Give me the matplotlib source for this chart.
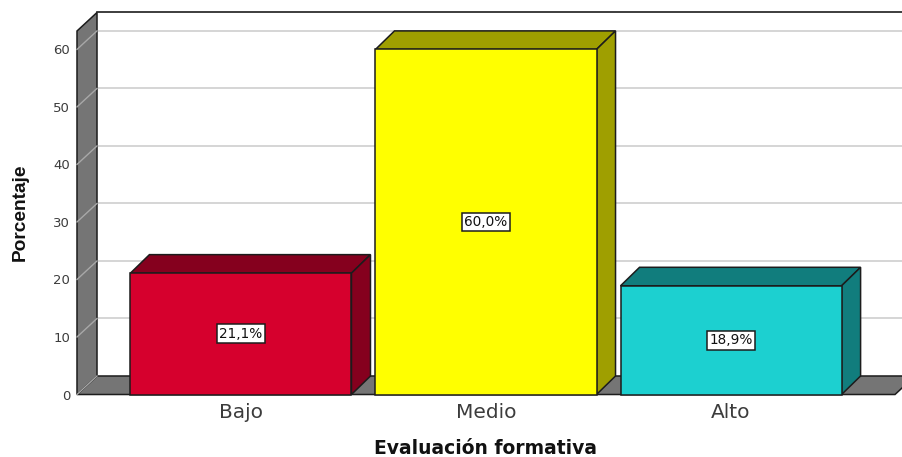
import matplotlib
matplotlib.use("Agg")
import matplotlib.pyplot as plt
from matplotlib.patches import Polygon

categories = ["Bajo", "Medio", "Alto"]
values = [21.1, 60.0, 18.9]
labels = ["21,1%", "60,0%", "18,9%"]
y_ticks = [0, 10, 20, 30, 40, 50, 60]

front_colors = ["#d6002d", "#ffff00", "#1cd0d0"]
side_colors = ["#85001e", "#9f9f00", "#117d7d"]

W, H = 902, 457
plt.rcParams["font.family"] = ["DejaVu Sans"]

fig = plt.figure(figsize=(W / 100, H / 100), dpi=100)
ax = fig.add_axes([77 / W, 1 - 394.5 / H, 818 / W, 363.5 / H])
ax.set_xlim(-0.669, 2.669)
ax.set_ylim(0, 63.2)
ax.patch.set_alpha(0)
for s in ax.spines.values():
    s.set_visible(False)

# depth of the fake 3d box, in data units
dx = 20 / 245
dy = 18.5 / 5.75
bar_dx = 19 / 245
x0, x1 = ax.get_xlim()
y1 = ax.get_ylim()[1]
edge = "#1c1c1c"


def poly(pts, fc, ec=edge, lw=1.1, z=2):
    ax.add_patch(Polygon(pts, closed=True, fc=fc, ec=ec, lw=lw, zorder=z, clip_on=False))


# walls
poly([(x0, 0), (x0 + dx, dy), (x0 + dx, y1 + dy), (x0, y1)], "#757575")
poly([(x0, 0), (x0 + dx, dy), (x1 + dx, dy), (x1, 0)], "#757575", z=1.5)
ax.plot([x0 + dx, x1 + dx], [y1 + dy, y1 + dy], color=edge, lw=1.2, clip_on=False, zorder=2)

for t in y_ticks[1:]:
    ax.plot([x0 + dx, x1 + dx], [t + dy, t + dy], color="#d2d2d2", lw=1.3, clip_on=False, zorder=1)
    ax.plot([x0, x0 + dx], [t, t + dy], color="#a8a8a8", lw=1, clip_on=False, zorder=3)
ax.plot([x0, x0 + dx], [0, dy], color="#a8a8a8", lw=1, clip_on=False, zorder=3)

# bars
width = 221 / 245
for i, v in enumerate(values):
    l, r = i - width / 2, i + width / 2
    poly([(l, v), (l + bar_dx, v + dy), (r + bar_dx, v + dy), (r, v)], side_colors[i], z=4)
    poly([(r, 0), (r + bar_dx, dy), (r + bar_dx, v + dy), (r, v)], side_colors[i], z=4)
    poly([(l, 0), (r, 0), (r, v), (l, v)], front_colors[i], z=5)
    ax.text(i, v / 2, labels[i], ha="center", va="center", fontsize=9.8, color="#111111", zorder=6,
            bbox=dict(boxstyle="square,pad=0.18", fc="white", ec=edge, lw=1.1))

ax.set_xticks(range(len(categories)))
ax.set_xticklabels(categories, fontsize=14.5, color="#3c3c3c")
ax.set_yticks(y_ticks)
ax.set_yticklabels([str(t) for t in y_ticks], fontsize=9.5, color="#3c3c3c")
ax.tick_params(axis="both", length=0)
ax.tick_params(axis="x", pad=6)
ax.tick_params(axis="y", pad=5)

fig.text(485 / W, 1 - 449 / H, "Evaluación formativa", ha="center", va="center",
         fontsize=13.5, fontweight="bold", color="#111111")
fig.text(20 / W, 1 - 212 / H, "Porcentaje", ha="center", va="center", rotation=90,
         fontsize=13.8, fontweight="bold", color="#111111",
         family=["Liberation Sans Narrow", "Liberation Sans"])

fig.savefig("out.png", dpi=100)
